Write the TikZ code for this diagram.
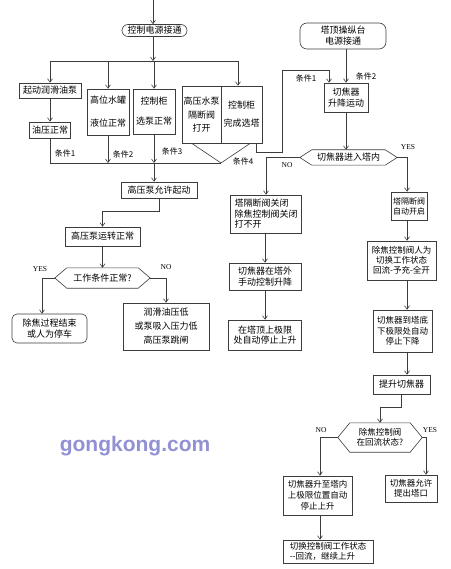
\documentclass[tikz,border=0pt]{standalone}
\usepackage{fontspec}
\setmainfont{Noto Sans CJK SC}
\newfontfamily\lsans{Liberation Sans}
\newfontfamily\lserif{Liberation Serif}
\usetikzlibrary{arrows.meta,calc}
\definecolor{ln}{RGB}{60,60,60}
\definecolor{wm}{RGB}{145,145,212}
\tikzset{
  boxline/.style={draw=ln, line width=0.6pt},
  box/.style={boxline, fill=white, inner sep=1pt, align=center, font=\fontsize{9}{11}\selectfont},
  rbox/.style={box, font=\fontsize{8.5}{10}\selectfont},
  hexin/.style={inner sep=1pt, align=center, font=\fontsize{9}{10}\selectfont},
  arr/.style={ln, line width=0.6pt, -{Straight Barb[length=3.5pt,width=5pt]}},
  wire/.style={ln, line width=0.6pt},
  lab/.style={font=\fontsize{8}{8}\selectfont, inner sep=0pt},
  yn/.style={font=\lserif\fontsize{7.5}{7.5}\selectfont, inner sep=0pt},
}
\newcommand{\hexnode}[7]{%
  \node[hexin, #7, minimum width=#3pt, minimum height=#4pt] (#1) at (#2) {#6};
  \draw[boxline] (#1.west) -- ($(#1.north west)+(#5,0)$) -- ($(#1.north east)+(-#5,0)$) -- (#1.east) -- ($(#1.south east)+(-#5,0)$) -- ($(#1.south west)+(#5,0)$) -- cycle;}
\begin{document}
\begin{tikzpicture}[x=1pt,y=-1pt]
\fill[white] (0,0) rectangle (450,569);
\useasboundingbox (0,0) rectangle (450,569);

% ---------- left part ----------
\node[box, rounded corners=6pt, minimum width=65pt, minimum height=12pt] (n0) at (154.5,30.5) {控制电源接通};
\node[box, minimum width=62pt, minimum height=15pt] (b1) at (50,90.5) {起动润滑油泵};
\node[box, minimum width=41pt, minimum height=16pt] (b2) at (50,130) {油压正常};
\node[box, minimum width=42pt, minimum height=46pt] (b3) at (108,112) {高位水罐\\[12pt]液位正常};
\node[box, minimum width=42pt, minimum height=45pt] (b4) at (154,111.5) {控制柜\\[9pt]选泵正常};
\node[box, minimum width=39pt, minimum height=57pt] (b5) at (201.5,114.5) {高压水泵\\[3pt]隔断阀\\[2pt]打开};
\node[box, minimum width=41pt, minimum height=57pt] (b6) at (241.5,114.5) {控制柜\\[7pt]完成选塔};
\node[box, minimum width=76pt, minimum height=16pt] (b7) at (159,190) {高压泵允许起动};
\node[box, minimum width=75pt, minimum height=19pt] (b8) at (102.5,236.5) {高压泵运转正常};
\hexnode{d1}{102.5,278}{95}{20}{12}{工作条件正常?}{}
\node[box, rounded corners=5pt, minimum width=75pt, minimum height=29pt] (b9) at (49.5,328.5) {除焦过程结束\\或人为停车};
\node[box, minimum width=86pt, minimum height=47pt] (b10) at (166,326.5) {润滑油压低\\[3pt]或泵吸入压力低\\[3pt]高压泵跳闸};

% ---------- right part ----------
\node[box, rounded corners=7pt, minimum width=86pt, minimum height=26pt] (r0) at (343,36) {塔顶操纵台\\电源接通};
\node[box, minimum width=44pt, minimum height=29pt] (r1) at (346,97.5) {切焦器\\升降运动};
\hexnode{d2}{348.5,157.5}{97}{15}{12}{切焦器进入塔内}{}
\node[box, align=left, font=\fontsize{9}{10.5}\selectfont, minimum width=71pt, minimum height=38pt] (r2) at (266,214) {塔隔断阀关闭\\除焦控制阀关闭\\打不开};
\node[box, font=\fontsize{9}{10.5}\selectfont, minimum width=72pt, minimum height=27pt] (r3) at (265,276.5) {切焦器在塔外\\手动控制升降};
\node[box, font=\fontsize{9}{10.5}\selectfont, minimum width=73pt, minimum height=30pt] (r4) at (265,335) {在塔顶上极限\\处自动停止上升};
\node[box, font=\fontsize{8}{10}\selectfont, inner sep=0.5pt, minimum width=36pt, minimum height=28pt] (r5) at (409,206) {塔隔断阀\\自动开启};
\node[rbox, minimum width=69pt, minimum height=39pt] (r6) at (401.5,260.5) {除焦控制阀人为\\切换工作状态\\回流-予充-全开};
\node[rbox, font=\fontsize{8.5}{10.5}\selectfont, minimum width=59pt, minimum height=42pt] (r7) at (402.5,331) {切焦器到塔底\\下极限处自动\\停止下降};
\node[box, minimum width=57pt, minimum height=19pt] (r8) at (401.5,384.5) {提升切焦器};
\hexnode{d3}{380,437.5}{84}{29}{12}{除焦控制阀\\在回流状态?}{font=\fontsize{8.5}{10}\selectfont}
\node[rbox, font=\fontsize{8.5}{11}\selectfont, minimum width=69pt, minimum height=39pt] (r9) at (317.5,495.5) {切焦器升至塔内\\上极限位置自动\\停止上升};
\node[rbox, align=left, minimum width=90pt, minimum height=23pt] (r10) at (328,551.5) {切换控制阀工作状态\\-{}-回流，继续上升};
\node[rbox, minimum width=52pt, minimum height=27pt] (r11) at (411,488.5) {切焦器允许\\提出塔口};

% ---------- connectors left ----------
\coordinate (top) at (153,0);
\coordinate (sp) at (153,61);
\coordinate (spL) at (50,61);
\coordinate (spR) at (238,61);
\coordinate (vt) at (221,163);
\draw[arr] (top) -- (top |- n0.north);
\draw[arr] (top |- n0.south) -- (sp);
\draw[wire] (spL) -- (spR);
\draw[arr] (spL) -- (spL |- b1.north);
\draw[arr] (b3 |- sp) -- (b3.north);
\draw[arr] (b4 |- sp) -- (b4.north);
\draw[arr] (spR) -- (spR |- b6.north);
\draw[arr] (b1) -- (b2);
\draw[wire] (b2.south) |- (vt);
\draw[arr] (b3.south) -- (b3 |- vt);
\draw[arr] (b4.south) -- (b4 |- vt);
\draw[wire] ($(b5.south west)+(10,0)$) -- (vt) -- ($(b6.south east)+(-12,0)$);
\draw[arr] (b4 |- vt) -- (b4 |- b7.north);
\draw[arr] (b7.south) -- ++(0,13) -| (b8.north);
\draw[arr] (b8.south) -- (d1.north);
\coordinate (cYL) at (42,0);
\draw[arr] (d1.west) -| (cYL |- b9.north);
\draw[arr] (d1.east) -| (b10.north);

% ---------- connectors right ----------
\coordinate (c1) at (282,152);
\coordinate (c2) at (329,70);
\draw[arr] ($(b6.south east)+(-6,0)$) |- (c1) |- (c2) -- (c2 |- r1.north);
\draw[arr] (r1.north |- r0.south) -- (r1.north);
\draw[arr] (r1.south) -- (r1.south |- d2.north);
\draw[arr] (d2.west) -| (r2.north);
\draw[arr] (r2.south -| r3.north) -- (r3.north);
\draw[arr] (r3.south) -- (r4.north);
\coordinate (colR) at (407,0);
\draw[arr] (d2.east) -| (colR |- r5.north);
\draw[arr] (colR |- r5.south) -- (colR |- r6.north);
\draw[arr] (colR |- r6.south) -- (colR |- r7.north);
\draw[arr] (colR |- r7.south) -- (colR |- r8.north);
\draw[arr] (r8.south) -- ++(0,13) -| (d3.north);
\coordinate (cN) at (320,0);
\coordinate (cY) at (426,0);
\draw[arr] (d3.west) -| (cN |- r9.north);
\draw[arr] (cN |- r9.south) -- (cN |- r10.north);
\draw[arr] (d3.east) -| (cY |- r11.north);

% ---------- labels ----------
\node[lab] (t1) at (65,153) {条件1};
\node[lab] (t2) at (123,154) {条件2};
\node[lab] (t3) at (172,151) {条件3};
\node[lab] (t4) at (243,161) {条件4};
\node[lab] (t5) at (306,78) {条件1};
\node[lab] (t6) at (366,76) {条件2};
\node[yn] (y1) at (40,269) {YES};
\node[yn] (o1) at (166,267) {NO};
\node[yn] (o2) at (287,165) {NO};
\node[yn] (y2) at (408,147) {YES};
\node[yn] (o3) at (321,430) {NO};
\node[yn] (y3) at (430,430) {YES};

\node[font=\lsans\bfseries\fontsize{21}{21}\selectfont, text=wm, inner sep=0pt] (wmk) at (135,446) {gongkong.com};
\end{tikzpicture}
\end{document}
